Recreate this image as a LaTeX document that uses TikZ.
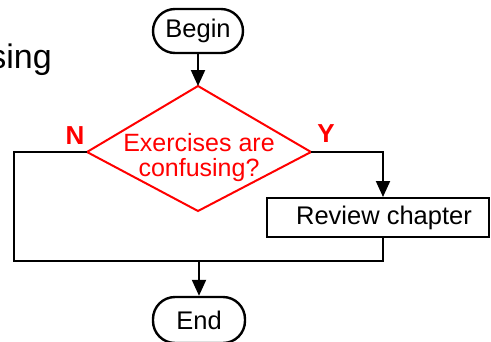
\documentclass[tikz,border=0pt]{standalone}
\usepackage{fontspec}
\setmainfont{Liberation Sans}
\usetikzlibrary{arrows.meta}
\definecolor{decred}{RGB}{255,0,0}
\tikzset{
  x=1pt, y=-1pt,
  conn/.style={draw=black, line width=2pt},
  arr/.style={conn, -{Triangle[width=14pt,length=16pt]}},
  terminal/.style={draw=black, line width=2.4pt, rounded corners=22pt,
    minimum width=90pt, minimum height=44pt, inner sep=0pt,
    font=\fontsize{25.5}{27}\selectfont},
  process/.style={draw=black, line width=2pt, minimum width=222pt,
    minimum height=39pt, inner sep=0pt, font=\fontsize{25.5}{27}\selectfont},
  decision/.style={draw=decred, line width=2pt},
  dectext/.style={text=decred, align=center, inner sep=0pt,
    font=\fontsize{25}{25}\selectfont},
  branch/.style={text=decred, inner sep=0pt, font=\fontsize{26}{28}\selectfont\bfseries}
}
\begin{document}
\begin{tikzpicture}
  \path[use as bounding box] (0,0) rectangle (491,341);
  \clip (0,0) rectangle (491,341);

  % tail of the slide title
  \node[anchor=base east, inner sep=0pt, font=\fontsize{34}{36}\selectfont] (title) at (52,68) {sing};

  % terminals and process box
  \node[terminal] (begin) at (198,31) {Begin};
  \node[terminal, minimum width=92pt, minimum height=46pt] (end) at (199,320) {End};
  \node[process] (review) at (378,217.5) {\hspace*{12pt}Review chapter};

  % decision diamond
  \coordinate (dtop) at (198,86);
  \coordinate (dright) at (311,152);
  \coordinate (dbottom) at (198,211);
  \coordinate (dleft) at (87,152);
  \draw[decision, line join=miter] (dtop) -- (dright) -- (dbottom) -- (dleft) -- cycle;
  \node[dectext, anchor=base] (q1) at (199,151) {Exercises are};
  \node[dectext, anchor=base] (q2) at (199,176) {confusing?};
  \node[branch] (no) at (75,135.5) {N};
  \node[branch] (yes) at (326,134) {Y};

  % routing points
  \coordinate (ycol) at (383,152);
  \coordinate (lcol) at (14,261);
  \coordinate (merge) at (end.north |- lcol);

  % connectors
  \draw[arr] (begin.south) -- (dtop);
  \draw[arr] (dright) -- (ycol) -- (ycol |- review.north);
  \draw[conn] (dleft) -| (lcol) -- (lcol -| ycol) -- (ycol |- review.south);
  \draw[arr] (merge) -- (end.north);
\end{tikzpicture}
\end{document}
